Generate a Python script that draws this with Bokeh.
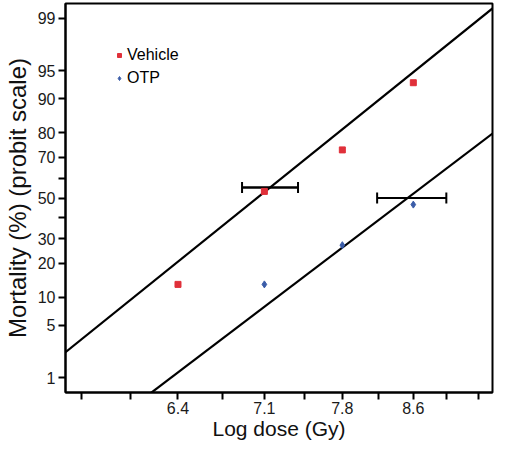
import math
from statistics import NormalDist
from bokeh.plotting import figure
from bokeh.models import (FixedTicker, CustomJSTickFormatter, ColumnDataSource, Whisker,
                          TeeHead, Legend, LegendItem, Range1d)
from bokeh.embed import file_html
from bokeh.resources import INLINE

# ---------------- data ----------------
vehicle_dose = [6.4, 7.1333, 7.8667, 8.6]
vehicle_mortality = [13.2, 53.4, 73.3, 93.2]          # %
otp_dose = [7.1333, 7.8667, 8.6]
otp_mortality = [13.2, 27.1, 46.6]                     # %

# probit fits: probit = slope * (ln(dose) - ln(LD50))
vehicle_ld50 = 7.068
vehicle_slope = 8.29
otp_ld50 = 8.539
otp_slope = 7.82

# LD50 confidence intervals (dose), drawn at given mortality level
ci_low = [6.936, 8.218]
ci_high = [7.441, 8.964]
ci_level = [55.4, 50.0]

x_ticks = [5.6667, 6.0333, 6.4, 6.7667, 7.1333, 7.5, 7.8667, 8.2333, 8.6, 8.9667, 9.3333]
x_tick_labels = ["", "", "6.4", "", "7.1", "", "7.8", "", "8.6", "", ""]
y_ticks_pct = [1, 5, 10, 20, 30, 40, 50, 60, 70, 80, 90, 95, 99]
y_tick_labels = ["1", "5", "10", "20", "30", "", "50", "", "70", "80", "90", "95", "99"]

x_lo, x_hi = 5.557, 9.499
z_lo, z_hi = -2.515, 2.515

FONT = "Liberation Sans"
nd = NormalDist()


def probit(pct):
    return nd.inv_cdf(pct / 100.0)


p = figure(width=494, height=442, x_axis_type="log",
           x_range=Range1d(x_lo, x_hi), y_range=Range1d(z_lo, z_hi),
           output_backend="svg", toolbar_location=None,
           min_border_left=0, min_border_right=2, min_border_top=3, min_border_bottom=0)

p.grid.visible = False
p.outline_line_color = "black"
p.outline_line_width = 2
p.background_fill_color = "white"
p.border_fill_color = "white"

# fitted lines
for ld50, slope in [(vehicle_ld50, vehicle_slope), (otp_ld50, otp_slope)]:
    xs = [x_lo, x_hi]
    ys = [slope * (math.log(x) - math.log(ld50)) for x in xs]
    p.line(xs, ys, line_color="black", line_width=2.2)

# CI whiskers
ci_src = ColumnDataSource(dict(base=[probit(v) for v in ci_level], lower=ci_low, upper=ci_high))
p.segment(x0="lower", x1="upper", y0="base", y1="base", source=ci_src,
          line_color="black", line_width=2)
p.add_layout(Whisker(source=ci_src, base="base", lower="lower", upper="upper", dimension="width",
                     line_color="black", line_width=2,
                     upper_head=TeeHead(size=11, line_width=2, line_color="black"),
                     lower_head=TeeHead(size=11, line_width=2, line_color="black")))

# points
r_veh = p.scatter(vehicle_dose, [probit(v) for v in vehicle_mortality], marker="square",
                  size=6, fill_color="#e0303a", line_color="#e0303a")
r_otp = p.scatter(otp_dose, [probit(v) for v in otp_mortality], marker="diamond",
                  size=7, fill_color="#3a5ca8", line_color="#3a5ca8")

legend = Legend(items=[LegendItem(label="Vehicle", renderers=[r_veh]),
                       LegendItem(label="OTP", renderers=[r_otp])],
                location=(49, 304), margin=0, padding=0, spacing=3,
                glyph_width=10, glyph_height=20, label_height=20, label_standoff=3,
                label_text_font=FONT, label_text_font_size="16px", label_text_color="black",
                border_line_alpha=0, background_fill_alpha=0)
p.add_layout(legend)

fmt_code = """
const i = tv.findIndex(t => Math.abs(t - tick) < 1e-6);
return i < 0 ? '' : lab[i];
"""

xa = p.xaxis[0]
xa.ticker = FixedTicker(ticks=x_ticks, minor_ticks=[])
xa.formatter = CustomJSTickFormatter(args=dict(tv=x_ticks, lab=x_tick_labels), code=fmt_code)
xa.axis_label = "Log dose (Gy)"

ya = p.yaxis[0]
y_tick_z = [probit(v) for v in y_ticks_pct]
ya.ticker = FixedTicker(ticks=y_tick_z, minor_ticks=[])
ya.formatter = CustomJSTickFormatter(args=dict(tv=y_tick_z, lab=y_tick_labels), code=fmt_code)
ya.axis_label = "Mortality (%) (probit scale)"

for ax in (xa, ya):
    ax.axis_line_color = "black"
    ax.axis_line_width = 2
    ax.major_tick_line_color = "black"
    ax.major_tick_line_width = 2
    ax.major_tick_out = 7
    ax.major_tick_in = 0
    ax.minor_tick_out = 0
    ax.minor_tick_in = 0
    ax.major_label_text_font = FONT
    ax.major_label_text_font_size = "16px"
    ax.major_label_text_color = "#1a1a1a"
    ax.axis_label_text_font = FONT
    ax.axis_label_text_font_style = "normal"
    ax.axis_label_text_color = "#111111"

xa.axis_label_text_font_size = "21px"
xa.major_label_standoff = 2
xa.axis_label_standoff = 0
ya.axis_label_text_font_size = "24px"
ya.major_label_standoff = 3
ya.axis_label_standoff = 4

open("out.html", "w").write(file_html(p, INLINE))
